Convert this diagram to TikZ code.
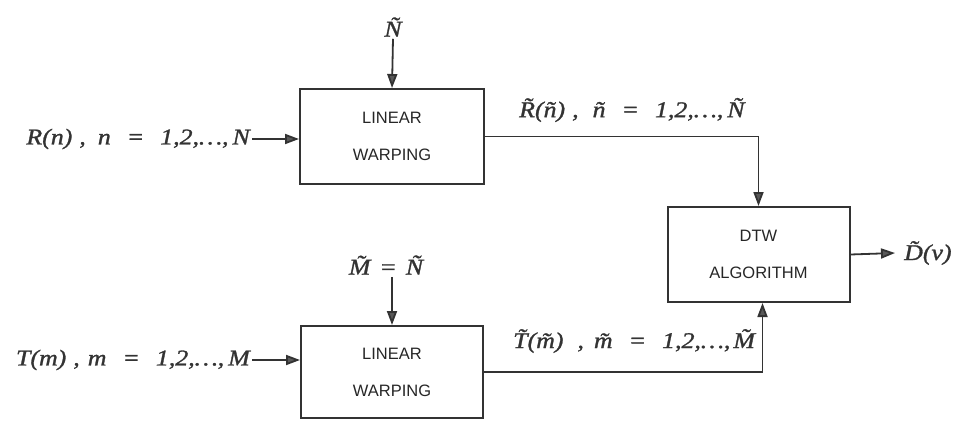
\documentclass[tikz,border=0pt]{standalone}
\usepackage{fontspec}
\setmainfont{Liberation Serif}
\newfontfamily\boxfont{Liberation Sans}
\newfontfamily\lblfont{Liberation Serif}[FakeStretch=1.15,FakeBold=1.3]
\usetikzlibrary{arrows.meta}
\tikzset{
  blk/.style={draw=black!80, line width=2pt, rectangle, font=\boxfont\fontsize{16.5}{37}\selectfont, align=center, text=black!85},
  lbl/.style={font=\lblfont\itshape\fontsize{22.5}{26}\selectfont, text=black!80, inner sep=0pt},
  arr/.style={draw=black!80, line width=1.8pt, -{Triangle[length=14pt,width=10pt,fill=black!65]}},
}
\newcommand{\eqsp}{\hspace{16pt}}
\begin{document}
\begin{tikzpicture}[x=1pt,y=-1pt]
\useasboundingbox (0,0) rectangle (979,423);
\node[blk, minimum width=184pt, minimum height=95pt] (lw1) at (392,136.5) {LINEAR\\WARPING};
\node[blk, minimum width=182pt, minimum height=92pt] (lw2) at (392,372) {LINEAR\\WARPING};
\node[blk, minimum width=182pt, minimum height=95pt] (dtw) at (758.5,254.5) {DTW\\ALGORITHM};
\node[lbl] (nt) at (393,27) {\~N};
\node[lbl] (mn) at (386,265) {\~M\hspace{9pt}=\hspace{9pt}\~N};
\node[lbl, anchor=east] (rn) at (250,139) {R(n)\hspace{7pt},\hspace{12pt}n\eqsp=\eqsp1,2,\dots,\hspace{4pt}N};
\node[lbl, anchor=east] (tm) at (250,360) {T(m)\hspace{7pt},\hspace{8pt}m\eqsp=\eqsp1,2,\dots,\hspace{4pt}M};
\node[lbl, anchor=west] (rt) at (519,110) {\~R(\~n)\hspace{7pt},\hspace{14pt}\~n\eqsp=\eqsp1,2,\dots,\hspace{4pt}\~N};
\node[lbl, anchor=west] (tt) at (513,341) {\~T(\~m)\hspace{14pt},\hspace{10pt}\~m\eqsp=\eqsp1,2,\dots,\hspace{3pt}\~M};
\node[lbl, anchor=west] (dv) at (904,253) {\~D(v)};
\draw[arr] (nt.south) ++(0,2) -- (lw1.north);
\draw[arr] (mn.south -| lw2.north) ++(0,2) -- (lw2.north);
\draw[arr] (rn.east) ++(2,0) -- (rn.east -| lw1.west);
\draw[arr] (tm.east) ++(2,0) -- (tm.east -| lw2.west);
\draw[arr] (lw1.east) -| (dtw.north);
\draw[arr] (lw2.east) -| ([xshift=4pt]dtw.south);
\draw[arr] (dtw.east) -- ([xshift=-9pt]dv.west);
\end{tikzpicture}
\end{document}
